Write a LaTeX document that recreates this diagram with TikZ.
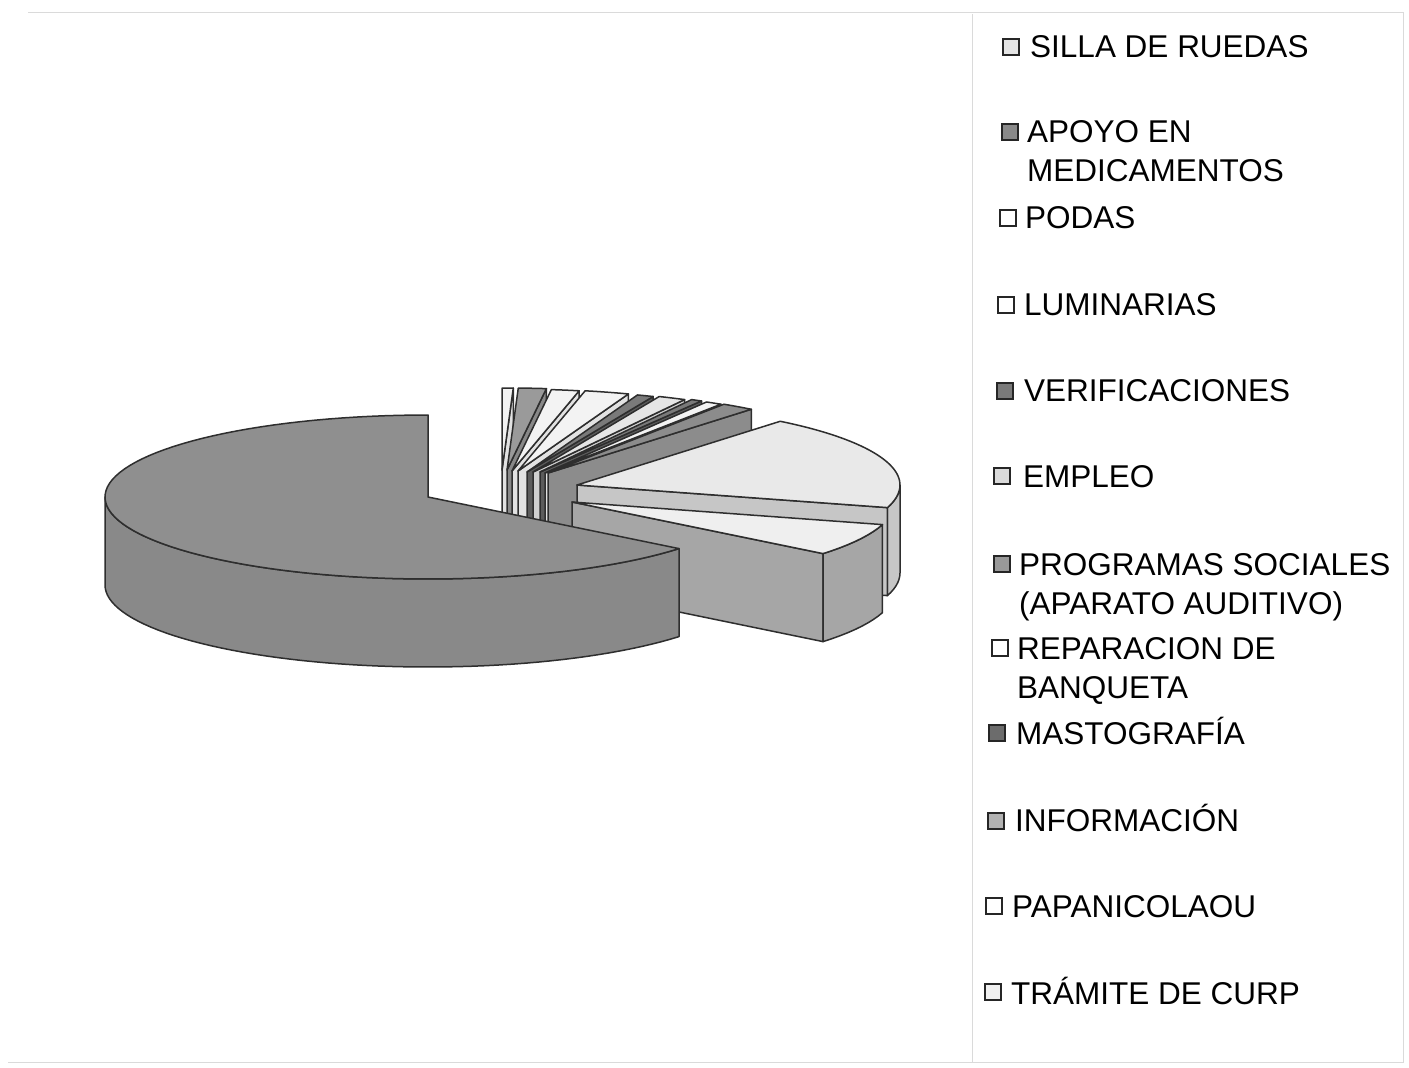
\documentclass[tikz,border=0pt]{standalone}
\usepackage{fontspec}
\setmainfont{Liberation Sans}
\usetikzlibrary{positioning}

\definecolor{edgegray}{HTML}{2E2E2E}
\definecolor{framegray}{HTML}{DADADA}
\definecolor{whitetop}{HTML}{F3F3F3}
\definecolor{whiteside}{HTML}{E2E2E2}
\definecolor{midtop}{HTML}{9A9A9A}
\definecolor{midside}{HTML}{888888}
\definecolor{darktop}{HTML}{7A7A7A}
\definecolor{darkside}{HTML}{5C5C5C}
\definecolor{palegray}{HTML}{E6E6E6}
\definecolor{paleside}{HTML}{CFCFCF}
\definecolor{bandgray}{HTML}{8C8C8C}
\definecolor{widetop}{HTML}{E9E9E9}
\definecolor{wideside}{HTML}{C6C6C6}
\definecolor{blocktop}{HTML}{EFEFEF}
\definecolor{blockside}{HTML}{A6A6A6}
\definecolor{bigtop}{HTML}{8F8F8F}
\definecolor{bigside}{HTML}{898989}
\definecolor{legsilla}{HTML}{E4E4E4}
\definecolor{legapoyo}{HTML}{8A8A8A}
\definecolor{legverif}{HTML}{7A7A7A}
\definecolor{legempleo}{HTML}{DADADA}
\definecolor{legprog}{HTML}{999999}
\definecolor{legmasto}{HTML}{6C6C6C}
\definecolor{leginfo}{HTML}{B2B2B2}
\definecolor{legcurp}{HTML}{F0F0F0}

\newcommand{\twolines}[2]{\begin{tabular}[t]{@{}l@{}}#1\\#2\end{tabular}}

\tikzset{
  face/.style={draw=edgegray, line width=1.5pt, line join=round},
  swatch/.style={draw=black!85, line width=1.8pt, minimum size=16pt, inner sep=0pt},
  entry/.style={anchor=base west, inner sep=0pt, font=\fontsize{31.5}{39}\selectfont},
  frameline/.style={draw=framegray, line width=1pt},
}

\begin{document}
\begin{tikzpicture}[x=1pt, y=-1pt]
  \useasboundingbox (0,0) rectangle (1409,1068);
  \def\rx{323}\def\ry{82}\def\hh{88}

  % frame of the chart area
  \draw[frameline] (28,12) -- (1403,12) -- (1403,1062) -- (8,1062);
  \draw[frameline] (972,14) -- (972,1062);

  % thin slices of the fan, back to front
  \foreach \ax/\ay/\a/\b/\tc/\sc in {
      502/470/88/90/whitetop/whiteside,
      507/470/83/88/midtop/midside,
      512/471/78/83/whitetop/whiteside,
      518/471/70/78/whitetop/whiteside,
      527/472/67/70/darktop/darkside,
      533/472/62/67/palegray/paleside,
      540/472/60/62/darktop/darkside,
      545/473/57/60/whitetop/whiteside,
      548/473/51/57/bandgray/bandgray}
  {
    \filldraw[face, fill=\sc] (\ax,\ay) -- ({\ax+\rx*cos(\a)},{\ay-\ry*sin(\a)})
      -- ++(0,\hh) -- (\ax,\ay+\hh) -- cycle;
    \filldraw[face, fill=\tc] (\ax,\ay)
      -- plot[domain=\a:\b, samples=8] ({\ax+\rx*cos(\x)},{\ay-\ry*sin(\x)}) -- cycle;
  }

  % wide pale slice
  \coordinate (wide) at (577,485);
  \filldraw[face, fill=wideside]
    plot[domain=-16:0, samples=8] ({577+\rx*cos(\x)},{485-\ry*sin(\x)})
    -- plot[domain=0:-16, samples=8] ({577+\rx*cos(\x)},{485+\hh-\ry*sin(\x)}) -- cycle;
  \filldraw[face, fill=wideside] (wide) -- ({577+\rx*cos(-16)},{485-\ry*sin(-16)})
    -- ++(0,\hh) -- (577,573) -- cycle;
  \filldraw[face, fill=widetop] (wide)
    -- plot[domain=-16:51, samples=40] ({577+\rx*cos(\x)},{485-\ry*sin(\x)}) -- cycle;

  % block pulled out to the front
  \coordinate (block) at (572,502);
  \filldraw[face, fill=blockside] (block) -- ({572+\rx*cos(-39)},{502-\ry*sin(-39)})
    -- ++(0,\hh) -- (572,590) -- cycle;
  \filldraw[face, fill=blockside]
    plot[domain=-39:-16, samples=10] ({572+\rx*cos(\x)},{502-\ry*sin(\x)})
    -- plot[domain=-16:-39, samples=10] ({572+\rx*cos(\x)},{502+\hh-\ry*sin(\x)}) -- cycle;
  \filldraw[face, fill=blocktop] (block)
    -- plot[domain=-39:-16, samples=10] ({572+\rx*cos(\x)},{502-\ry*sin(\x)}) -- cycle;

  % big slice
  \coordinate (big) at (428,497);
  \filldraw[face, fill=bigside]
    plot[domain=180:321, samples=60] ({428+\rx*cos(\x)},{497-\ry*sin(\x)})
    -- plot[domain=321:180, samples=60] ({428+\rx*cos(\x)},{497+\hh-\ry*sin(\x)}) -- cycle;
  \filldraw[face, fill=bigtop] (big)
    -- plot[domain=90:321, samples=90] ({428+\rx*cos(\x)},{497-\ry*sin(\x)}) -- cycle;

  % legend
  \foreach \n/\sx/\sy/\tx/\ty/\c/\t in {
      silla/1011/47/1030/57/legsilla/{SILLA DE RUEDAS},
      apoyo/1010/132/1027/142/legapoyo/{\twolines{APOYO EN}{MEDICAMENTOS}},
      podas/1008/218/1025/228/white/{PODAS},
      luminarias/1006/305/1024/315/white/{LUMINARIAS},
      verificaciones/1005/391/1024/401/legverif/{VERIFICACIONES},
      empleo/1002/476/1023/487/legempleo/{EMPLEO},
      programas/1002/564/1019/575/legprog/{\twolines{PROGRAMAS SOCIALES}{(APARATO AUDITIVO)}},
      reparacion/1000/648/1017/659/white/{\twolines{REPARACION DE}{BANQUETA}},
      mastografia/997/733/1016/744/legmasto/{MASTOGRAFÍA},
      informacion/996/821/1015/831/leginfo/{INFORMACIÓN},
      papanicolaou/994/906/1012/917/white/{PAPANICOLAOU},
      curp/993/992/1011/1004/legcurp/{TRÁMITE DE CURP}}
  {
    \node[swatch, fill=\c] (sw-\n) at (\sx,\sy) {};
    \node[entry] (\n) at (\tx,\ty) {\t};
  }
\end{tikzpicture}
\end{document}
